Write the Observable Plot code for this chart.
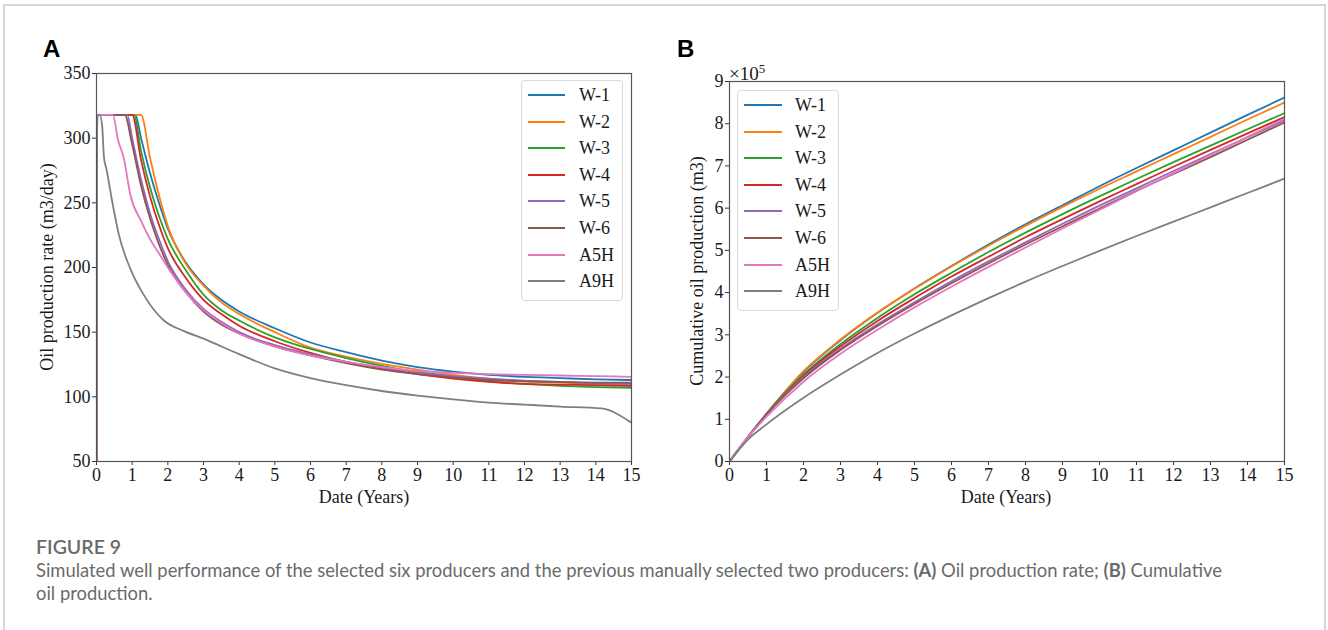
<!DOCTYPE html>
<html>
<head>
<meta charset="utf-8">
<script src="https://cdn.jsdelivr.net/npm/d3@7"></script>
<script src="https://cdn.jsdelivr.net/npm/@observablehq/plot@0.6"></script>
<style>
  body { margin: 0; background: #fff; }
  #fig { position: relative; width: 1328px; height: 630px; overflow: hidden; background: #fff;
         font-family: "Liberation Serif", "Times New Roman", serif; color: #1a1a1a; }
  .frameborder { position: absolute; left: 3px; top: 4px; width: 1323px; height: 700px;
         border: 2px solid #d6d6d6; box-sizing: border-box; }
  .panel { position: absolute; top: 0; }
  .plabel { position: absolute; font-family: "Liberation Sans", Arial, sans-serif; font-weight: bold;
         font-size: 24px; color: #000; line-height: 1; }
  .axlabel { position: absolute; font-size: 18px; white-space: nowrap; line-height: 1;
         transform: translate(-50%, -50%); }
  .ylab { transform: translate(-50%, -50%) rotate(-90deg); }
  .legend { position: absolute; border: 1px solid #d9d9d9; border-radius: 4px;
         background: rgba(255,255,255,0.85); box-sizing: border-box; }
  .legend .sw { position: absolute; height: 2px; }
  .legend .lt { position: absolute; font-size: 18px; line-height: 1; transform: translateY(-50%); white-space: nowrap; }
  .mult { position: absolute; font-size: 19px; line-height: 1; white-space: nowrap; }
  .mult sup { font-size: 13px; vertical-align: 7px; }
  .cap { position: absolute; left: 36px; font-family: Lato, "Open Sans", sans-serif; color: #6a6a6a; white-space: nowrap; }
  .cap b { font-weight: bold; }
</style>
</head>
<body>
<div id="fig">
  <div class="frameborder"></div>
  <div id="panelA" class="panel" style="left:0px"></div>
  <div id="panelB" class="panel" style="left:660px"></div>
  <div class="plabel" style="left:43px; top:37px">A</div>
  <div class="plabel" style="left:677px; top:37px">B</div>
  <div class="axlabel" style="left:364px; top:497px">Date (Years)</div>
  <div class="axlabel" style="left:1006px; top:497px">Date (Years)</div>
  <div class="axlabel ylab" style="left:47px; top:267px">Oil production rate (m3/day)</div>
  <div class="axlabel ylab" style="left:697px; top:271px">Cumulative oil production (m3)</div>
  <div class="mult" style="left:729px; top:62px">×10<sup>5</sup></div>
  <div id="legA" class="legend" style="left:521px; top:80px; width:102px; height:221px"></div>
  <div id="legB" class="legend" style="left:737px; top:90px; width:102px; height:221px"></div>
  <div class="cap" style="top:535px; font-size:19.5px; font-weight:600">FIGURE 9</div>
  <div class="cap" style="top:559px; font-size:18.4px">Simulated well performance of the selected six producers and the previous manually selected two producers: <b>(A)</b> Oil production rate; <b>(B)</b> Cumulative</div>
  <div class="cap" style="top:582px; font-size:18.4px">oil production.</div>
</div>
<script>
// ---------------- DATA ----------------
const wells  = ["W-1", "W-2", "W-3", "W-4", "W-5", "W-6", "A5H", "A9H"];
const colors = ["#1f77b4", "#ff7f0e", "#2ca02c", "#d62728", "#9467bd", "#8c564b", "#e377c2", "#7f7f7f"];

const xTicks  = [0,1,2,3,4,5,6,7,8,9,10,11,12,13,14,15];
const yTicksA = [50,100,150,200,250,300,350];
const yTicksB = [0,1,2,3,4,5,6,7,8,9];

// Panel A: oil production rate (m3/day) vs time (years)
const tW1 = [0,0.02,1.09,1.25,1.5,1.75,2,2.5,3,3.5,4,5,6,7,8,9,10,11,12,13,14,15];
const rW1 = [0,318,318,300,273,250,230,204,187,175,166,153,142,134.5,128,123,119.5,117,115.5,114.5,113.5,113];
const tW2 = [0,0.02,1.25,1.5,1.75,2,2.5,3,3.5,4,5,6,7,8,9,10,11,12,13,14,15];
const rW2 = [0,318,318,285,256,232,203,186,173,164,150,138,131,125.5,121,117,114,112,111,110,109.5];
const tW3 = [0,0.02,1.05,1.25,1.5,1.75,2,2.5,3,3.5,4,5,6,7,8,9,10,11,12,13,14,15];
const rW3 = [0,318,318,290,262,240,222,198,179,167,159,146,137,130,124,119,115,112,110,108.5,107.5,107];
const tW4 = [0,0.02,1.0,1.25,1.5,1.75,2,2.5,3,3.5,4,5,6,7,8,9,10,11,12,13,14,15];
const rW4 = [0,318,318,283,255,233,215,192,175,164,155,143,134,127,122,117.5,114,111.5,110,109.5,109,108.5];
const tW5 = [0,0.02,0.86,1,1.25,1.5,1.75,2,2.5,3,3.5,4,5,6,7,8,9,10,11,12,13,14,15];
const rW5 = [0,318,318,300,268,242,222,205,183,168,158,150,140,133,127,122.5,119,116,114,112.5,111.5,110.5,110];
const tW6 = [0,0.02,0.79,1,1.25,1.5,1.75,2,2.5,3,3.5,4,5,6,7,8,9,10,11,12,13,14,15];
const rW6 = [0,318,318,295,263,238,218,202,181,166,156,149,139,132,126,121,117.5,115,113,112,111.5,111,111];
const tA5H = [0,0.02,0.46,0.6,0.77,0.95,1.25,1.5,1.75,2,2.5,3,3.5,4,5,6,7,8,9,10,11,12,13,14,15];
const rA5H = [0,318,318,299,284,256,236,222,211,200,181,167,157,149,139,132,127,123,120,118.5,117.5,117,116.5,116,115.5];
const tA9H = [0,0.02,0.09,0.16,0.21,0.28,0.44,0.63,0.95,1.32,1.89,2.44,3,4,5,6,7,8,9,10,11,12,13,14.15,15];
const rA9H = [0,318,318,309,285,276,251,225,199,179,159,151,145,133,122,114.5,109,104.5,101,98,95.5,94,92.5,91,80];

// Panel B: cumulative oil production (x10^5 m3)
const cumYears = [0,0.5,1,2,3,4,5,6,7,8,9,10,11,12,13,14,15];
const cW1  = [0,0.58,1.13,2.12,2.87,3.52,4.10,4.63,5.14,5.62,6.07,6.52,6.95,7.37,7.79,8.21,8.62];
const cW2  = [0,0.58,1.13,2.14,2.89,3.53,4.09,4.62,5.11,5.58,6.03,6.46,6.87,7.28,7.69,8.10,8.50];
const cW3  = [0,0.58,1.13,2.06,2.78,3.40,3.96,4.47,4.96,5.42,5.86,6.28,6.69,7.09,7.48,7.87,8.25];
const cW4  = [0,0.58,1.12,2.03,2.73,3.33,3.87,4.38,4.85,5.31,5.74,6.16,6.57,6.98,7.38,7.77,8.16];
const cW5  = [0,0.58,1.12,2.00,2.67,3.25,3.77,4.27,4.74,5.19,5.63,6.06,6.47,6.88,7.28,7.68,8.08];
const cW6  = [0,0.58,1.11,1.97,2.64,3.21,3.73,4.22,4.69,5.14,5.57,5.99,6.41,6.81,7.21,7.62,8.03];
const cA5H = [0,0.58,1.06,1.89,2.55,3.12,3.65,4.14,4.61,5.07,5.52,5.96,6.40,6.83,7.26,7.69,8.12];
const cA9H = [0,0.52,0.88,1.51,2.06,2.57,3.03,3.46,3.87,4.26,4.63,4.99,5.34,5.68,6.02,6.36,6.70];

// ---------------- TABLES ----------------
const rateSeries = [[tW1,rW1],[tW2,rW2],[tW3,rW3],[tW4,rW4],[tW5,rW5],[tW6,rW6],[tA5H,rA5H],[tA9H,rA9H]];
const cumSeries  = [cW1,cW2,cW3,cW4,cW5,cW6,cA5H,cA9H];

const rateData = [];
rateSeries.forEach(([ts, vs], i) => ts.forEach((t, j) => rateData.push({well: wells[i], t, v: vs[j]})));
const cumData = [];
cumSeries.forEach((vs, i) => cumYears.forEach((t, j) => cumData.push({well: wells[i], t, v: vs[j]})));

const common = {
  height: 520,
  style: {fontFamily: "'Liberation Serif', 'Times New Roman', serif", fontSize: "18px", color: "#1a1a1a", background: "transparent", overflow: "visible"},
  color: {domain: wells, range: colors}
};

function axes(yTicks) {
  return [
    Plot.axisX({ticks: xTicks, tickFormat: d => String(d), tickSize: 4, tickPadding: 3, label: null, stroke: "#333"}),
    Plot.axisY({ticks: yTicks, tickFormat: d => String(d), tickSize: 4, tickPadding: 2, label: null, stroke: "#333"})
  ];
}

const chartA = Plot.plot({
  ...common,
  width: 660,
  marginLeft: 96, marginRight: 29, marginTop: 73, marginBottom: 59,
  x: {domain: [0, 15]},
  y: {domain: [50, 350]},
  marks: [
    ...axes(yTicksA),
    Plot.line(rateData, {x: "t", y: "v", z: "well", stroke: "well", strokeWidth: 1.8, curve: "monotone-x", clip: true}),
    Plot.frame({stroke: "#555", strokeWidth: 1.2})
  ]
});
document.getElementById("panelA").appendChild(chartA);

const chartB = Plot.plot({
  ...common,
  width: 668,
  marginLeft: 69, marginRight: 44, marginTop: 81, marginBottom: 59,
  x: {domain: [0, 15]},
  y: {domain: [0, 9]},
  marks: [
    ...axes(yTicksB),
    Plot.line(cumData, {x: "t", y: "v", z: "well", stroke: "well", strokeWidth: 1.8, curve: "monotone-x", clip: true}),
    Plot.frame({stroke: "#555", strokeWidth: 1.2})
  ]
});
document.getElementById("panelB").appendChild(chartB);

// ---------------- LEGENDS ----------------
function buildLegend(id, swLeft, swWidth, textLeft, firstY, step) {
  const el = document.getElementById(id);
  wells.forEach((w, i) => {
    const y = firstY + i * step;
    const sw = document.createElement("div");
    sw.className = "sw";
    sw.style.left = swLeft + "px"; sw.style.top = (y - 1) + "px";
    sw.style.width = swWidth + "px"; sw.style.background = colors[i];
    el.appendChild(sw);
    const tx = document.createElement("div");
    tx.className = "lt";
    tx.style.left = textLeft + "px"; tx.style.top = y + "px";
    tx.textContent = w;
    el.appendChild(tx);
  });
}
buildLegend("legA", 6, 37, 57, 14, 26.6);
buildLegend("legB", 6, 38, 57, 14, 26.6);
</script>
</body>
</html>
